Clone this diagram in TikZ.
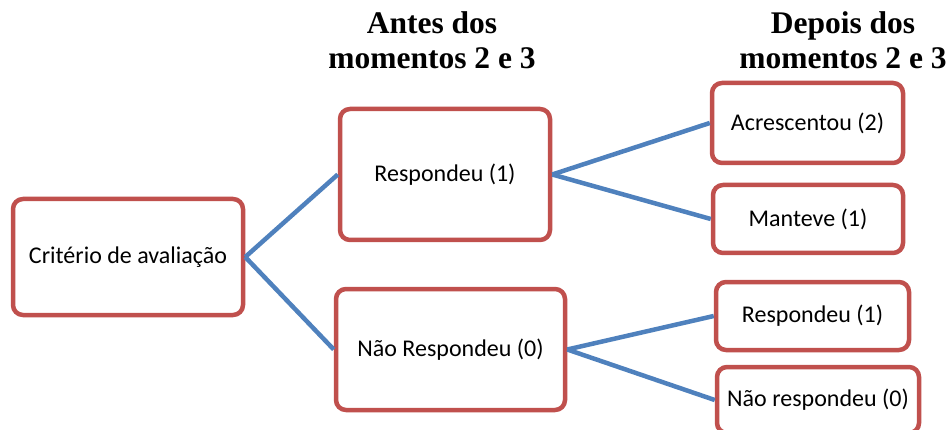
\documentclass[tikz,border=0pt]{standalone}
\usepackage{fontspec}
\setmainfont{Carlito}
\newfontfamily\headfont{Liberation Serif}
\definecolor{boxred}{HTML}{C0504D}
\definecolor{lineblue}{HTML}{4F81BD}
\begin{document}
\begin{tikzpicture}[x=1pt,y=-1pt,
  box/.style={draw=boxred,line width=4.5pt,rounded corners=10pt,fill=white,
    inner sep=0pt,align=center,font=\fontsize{24}{28}\selectfont},
  conn/.style={draw=lineblue,line width=4.5pt},
  head/.style={inner sep=0pt,anchor=north,align=center,
    font=\headfont\bfseries\fontsize{31.5}{35}\selectfont}]
\useasboundingbox (0,0) rectangle (947,430);
% headers
\node[head] (h1) at (432,11) {Antes dos\\momentos 2 e 3};
\node[head] (h2) at (843,11) {Depois dos\\momentos 2 e 3};
% boxes
\node[box,minimum width=230pt,minimum height=116pt] (crit) at (128,257) {Critério de avaliação};
\node[box,minimum width=210pt,minimum height=131pt] (resp) at (445,174.5) {Respondeu (1)};
\node[box,minimum width=229pt,minimum height=121pt] (nresp) at (450.5,349.5) {Não Respondeu (0)};
\node[box,minimum width=191pt,minimum height=80pt] (acr) at (807.5,123) {Acrescentou (2)};
\node[box,minimum width=190pt,minimum height=68pt] (mant) at (808,219) {Manteve (1)};
\node[box,minimum width=193pt,minimum height=68pt] (resp2) at (812.5,316) {Respondeu (1)};
\node[box,minimum width=202pt,minimum height=66pt] (nresp2) at (818,400) {Não respondeu (0)};
% connectors
\draw[conn] (crit.east) -- (resp.west);
\draw[conn] (crit.east) -- (nresp.west);
\draw[conn] (resp.east) -- (acr.west);
\draw[conn] (resp.east) -- (mant.west);
\draw[conn] (nresp.east) -- (resp2.west);
\draw[conn] (nresp.east) -- (nresp2.west);
\end{tikzpicture}
\end{document}
